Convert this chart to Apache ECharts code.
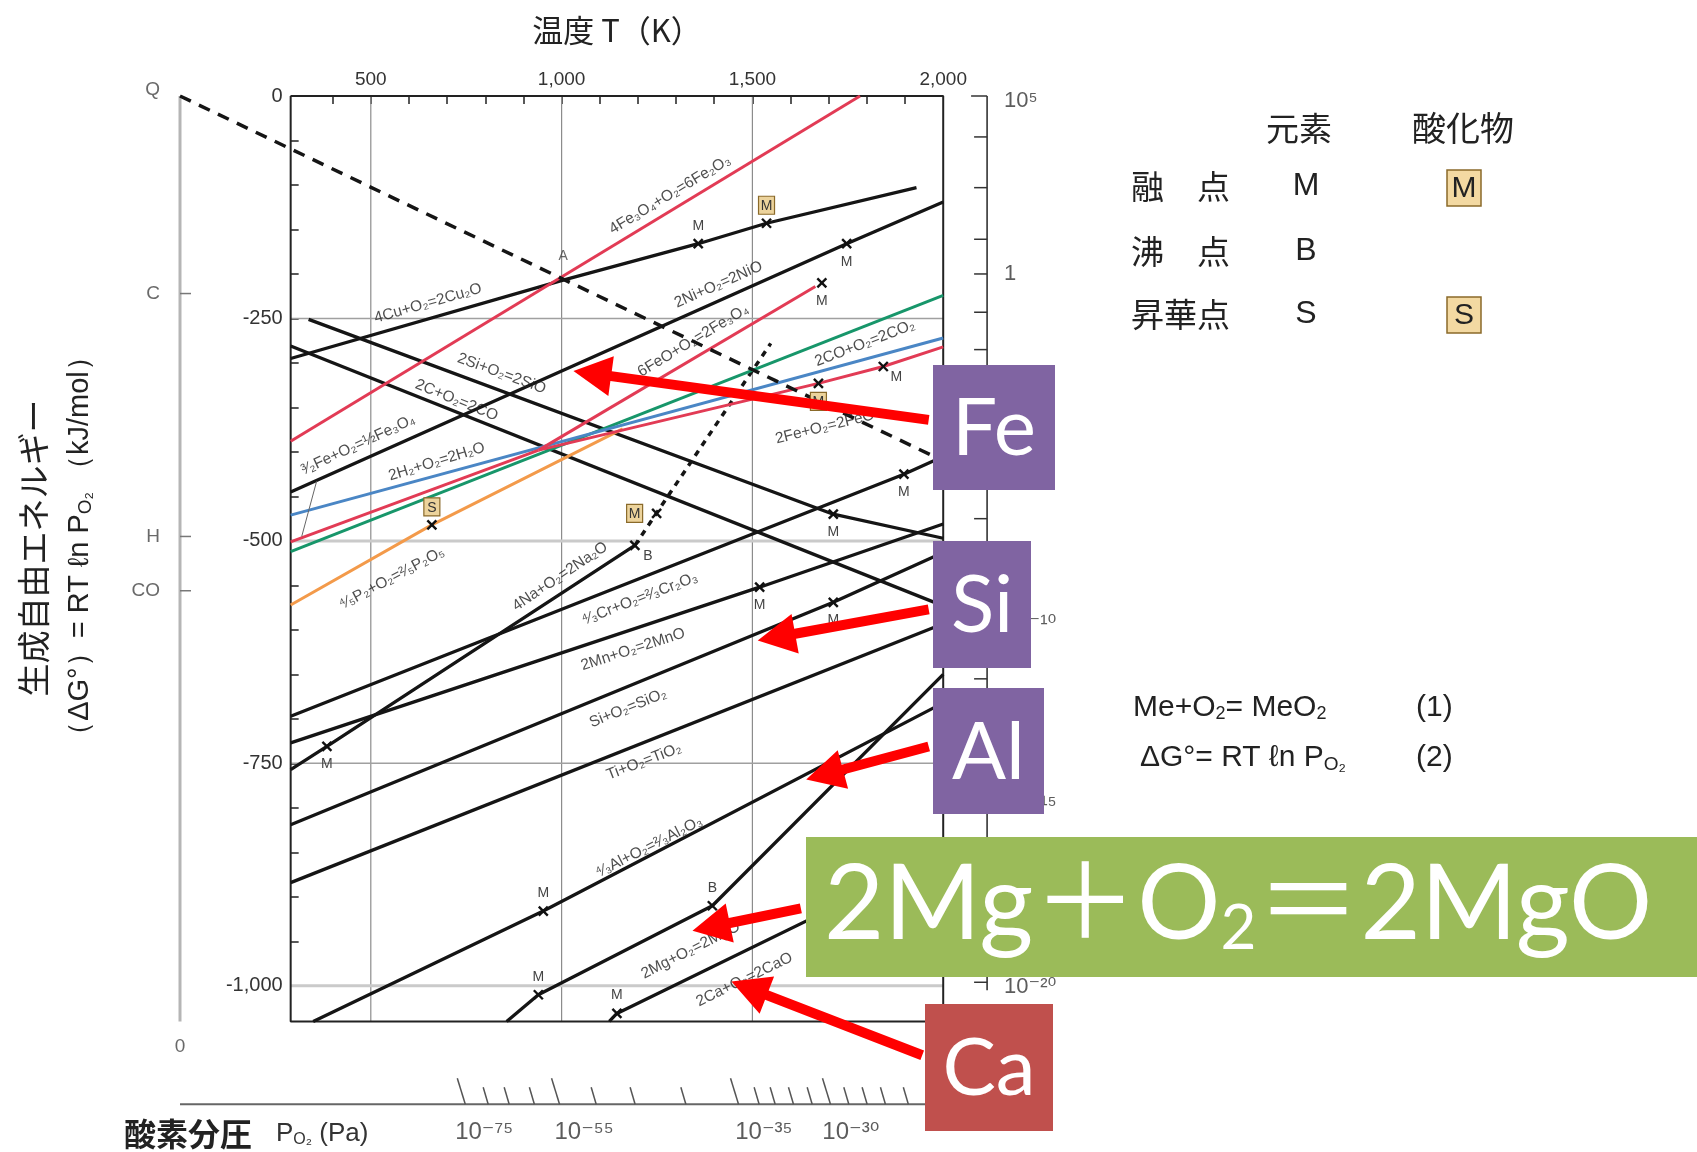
<!DOCTYPE html>
<html>
<head>
<meta charset="utf-8">
<script src="https://cdn.jsdelivr.net/npm/echarts@6/dist/echarts.min.js"></script>
<style>
  html, body { margin: 0; background: #fff; }
  #main { width: 1697px; height: 1152px; }
</style>
</head>
<body>
<div id="main"></div>
<script>
// 図の枠 (K, kJ/mol)
const T_MIN = 290, T_MAX = 2000, G_MIN = -1040, G_MAX = 0;

// 軸の目盛
const topTicks = [400, 500, 600, 700, 800, 900, 1000, 1100, 1200, 1300, 1400, 1500, 1600, 1700, 1800, 1900];
const topLabels = [500, 1000, 1500, 2000];
const leftTicks = [0, -50, -100, -150, -200, -250, -300, -350, -400, -450, -500, -550, -600, -650, -700, -750, -800, -850, -900, -950, -1000];
const leftLabels = [0, -250, -500, -750, -1000];
const vGrid = [500, 1000, 1500];
const hGrid = [-250, -500, -750, -1000];

// 各反応の ΔG° 線 [T, ΔG°]
const lineCu = [[290, -295], [1004, -207], [1358, -166], [1537, -143], [1930, -103]];
const lineFe2O3 = [[290, -388], [1782, 0]];
const lineNi = [[290, -445], [1747, -166], [2000, -119]];
const lineFe3O4 = [[940, -398], [1665, -214]];
const lineFeO = [[940, -398], [1673, -323], [1843, -304], [2000, -282]];
const lineFeFe3O4 = [[290, -501], [940, -398]];
const lineH2O = [[290, -471], [2000, -272]];
const lineCO2 = [[290, -512], [2000, -224]];
const lineP = [[290, -572], [660, -482], [1160, -374]];
const lineSiO = [[337, -251], [1712, -470], [2000, -497]];
const lineCO = [[290, -281], [2000, -573]];
const lineNa = [[290, -757], [385, -731], [1192, -505]];
const lineNaGas = [[1192, -505], [1548, -278]];
const lineCr = [[290, -697], [1897, -425], [2000, -405]];
const lineMn = [[290, -727], [1519, -552], [2000, -481]];
const lineSi = [[290, -819], [1712, -569], [2000, -513]];
const lineTi = [[290, -884], [2000, -593]];
const lineAl = [[349, -1040], [952, -916], [2000, -682]];
const lineMg = [[856, -1040], [939, -1010], [1395, -910], [2000, -650]];
const lineCa = [[1125, -1040], [1145, -1031], [2000, -852]];
const lineQ = [[0, 0], [2000, -410]];
const pointerFe = [[358, -433], [319, -495]];

// 融点・沸点などの記号 [T, ΔG°, 記号, 位置]
const markers = [
  [1358, -166, 'M', 'top'], [1537, -143, '[M]', 'top'], [1747, -166, 'M', 'bottom'],
  [1682, -210, 'M', 'bottom'], [1673, -323, '[M]', 'bottom'], [1843, -304, 'M', 'br'],
  [1712, -470, 'M', 'bottom'], [1897, -425, 'M', 'bottom'], [1519, -552, 'M', 'bottom'],
  [1712, -569, 'M', 'bottom'], [385, -731, 'M', 'bottom'], [1192, -505, 'B', 'br'],
  [1249, -469, '[M]', 'left'], [660, -482, '[S]', 'top'], [952, -916, 'M', 'top'],
  [939, -1010, 'M', 'top'], [1395, -910, 'B', 'top'], [1145, -1031, 'M', 'top']
];

// 反応式ラベル [T, ΔG°, 文字, 角度]
const reactionLabels = [
  [650, -233, '4Cu+O₂=2Cu₂O', 16],
  [1284, -111, '4Fe₃O₄+O₂=6Fe₂O₃', 31],
  [1411, -212, '2Ni+O₂=2NiO', 24],
  [1345, -275, '6FeO+O₂=2Fe₃O₄', 31],
  [1795, -278, '2CO+O₂=2CO₂', 21],
  [843, -312, '2Si+O₂=2SiO', -20],
  [725, -342, '2C+O₂=2CO', -22],
  [1690, -372, '2Fe+O₂=2FeO', 14],
  [467, -392, '³⁄₂Fe+O₂=½Fe₃O₄', 25],
  [673, -411, '2H₂+O₂=2H₂O', 17],
  [555, -542, '⁴⁄₅P₂+O₂=²⁄₅P₂O₅', 28],
  [996, -540, '4Na+O₂=2Na₂O', 34],
  [1205, -565, '⁴⁄₃Cr+O₂=²⁄₃Cr₂O₃', 21],
  [1187, -622, '2Mn+O₂=2MnO', 18],
  [1174, -688, 'Si+O₂=SiO₂', 22],
  [1216, -748, 'Ti+O₂=TiO₂', 21],
  [1229, -844, '⁴⁄₃Al+O₂=²⁄₃Al₂O₃', 27],
  [1338, -960, '2Mg+O₂=2MgO', 27],
  [1479, -993, '2Ca+O₂=2CaO', 26]
];

// 左の基準点
const leftPoints = [[0, 0, 'Q'], [0, -222, 'C'], [0, -495, 'H'], [0, -556, 'CO']];
const leftPointTicks = [-222, -495, -556];

// 酸素分圧の目盛 (下と右)
const NOMO_B_G = -1133;
const nomoBottomMajor = [745, 992, 1461, 1702];
const nomoBottomMinor = [805, 860, 926, 1088, 1190, 1323, 1515, 1557, 1605, 1654, 1750, 1798, 1846, 1906];
const nomoBottomLabels = [[797, '10⁻⁷⁵'], [1059, '10⁻⁵⁵'], [1530, '10⁻³⁵'], [1758, '10⁻³⁰']];
const NOMO_R_T = 2115;
const nomoRightTicks = [0, -46, -103, -161, -200, -243, -285, -475, -655, -798, -996];
const nomoRightLabels = [[-5, '10⁵'], [-200, '1'], [-593, '10⁻¹⁰'], [-797, '10⁻¹⁵'], [-1001, '10⁻²⁰']];

// 矢印 [T始, G始, T先, G先]
const arrows = [
  [1962, -364, 1031, -309],
  [1962, -577, 1514, -612],
  [1962, -731, 1641, -768],
  [1627, -913, 1343, -938],
  [1945, -1078, 1445, -995]
];

const RED = '#e23b55', BLUE = '#4a86c5', GREEN = '#17966a', ORANGE = '#f39a4a', BLACK = '#151515';
const LATIN = '"Liberation Sans", "DejaVu Sans", Arial, sans-serif';
const CJK = '"Noto Sans CJK JP", sans-serif';

const series = [];
function addLine(data, color, width, type, z) {
  series.push({
    type: 'line', data: data, symbol: 'none', silent: true, animation: false,
    lineStyle: { color: color, width: width, type: type || 'solid', cap: 'butt' },
    z: z || 3
  });
}

// グリッド線と枠
vGrid.forEach(t => addLine([[t, G_MAX], [t, G_MIN]], '#8c8c8c', 1.2, 'solid', 1));
hGrid.forEach(g => addLine([[T_MIN, g], [T_MAX, g]], (g === -500 || g === -1000) ? '#cacaca' : '#a0a0a0', (g === -500 || g === -1000) ? 3 : 1.5, 'solid', 1));
addLine([[T_MIN, G_MAX], [T_MAX, G_MAX], [T_MAX, G_MIN], [T_MIN, G_MIN], [T_MIN, G_MAX]], '#222', 2, 'solid', 2);
addLine([[0, G_MAX], [0, G_MIN]], '#b5b5b5', 3, 'solid', 1);

// 反応線
addLine(lineQ, BLACK, 3.5, [12, 9], 4);
addLine(lineCu, BLACK, 3.3);
addLine(lineNi, BLACK, 3.3);
addLine(lineSiO, BLACK, 3.3);
addLine(lineCO, BLACK, 3.3);
addLine(lineNa, BLACK, 3.3);
addLine(lineNaGas, BLACK, 3.5, [6, 6]);
addLine(lineCr, BLACK, 3.3);
addLine(lineMn, BLACK, 3.3);
addLine(lineSi, BLACK, 3.3);
addLine(lineTi, BLACK, 3.3);
addLine(lineAl, BLACK, 3.3);
addLine(lineMg, BLACK, 3.3);
addLine(lineCa, BLACK, 3.3);
addLine(lineP, ORANGE, 3);
addLine(lineCO2, GREEN, 3);
addLine(lineH2O, BLUE, 3);
addLine(lineFe2O3, RED, 3);
addLine(lineFe3O4, RED, 3);
addLine(lineFeO, RED, 3);
addLine(lineFeFe3O4, RED, 3);
addLine(pointerFe, '#666', 1);

// 酸素分圧 下の線
addLine([[0, NOMO_B_G], [1963, NOMO_B_G]], '#666', 2, 'solid', 2);
// 右の線
addLine([[NOMO_R_T, G_MAX], [NOMO_R_T, -1005]], '#333', 1.6, 'solid', 2);

function customSeries(data, draw, z) {
  return {
    type: 'custom', data: data, silent: true, animation: false, clip: false, z: z || 4,
    renderItem: function (params, api) {
      return draw(api.coord([api.value(0), api.value(1)]), params.dataIndex, api);
    }
  };
}

// 左の基準点の目盛
series.push(customSeries(leftPointTicks.map(g => [0, g]), p => ({
  type: 'line', shape: { x1: p[0], y1: p[1], x2: p[0] + 11, y2: p[1] }, style: { stroke: '#777', lineWidth: 1.5 }
})));
// 下の目盛 (斜め)
series.push(customSeries(nomoBottomMajor.map(t => [t, NOMO_B_G]), p => ({
  type: 'line', shape: { x1: p[0] + 1, y1: p[1], x2: p[0] - 7, y2: p[1] - 26 }, style: { stroke: '#555', lineWidth: 1.5 }
})));
series.push(customSeries(nomoBottomMinor.map(t => [t, NOMO_B_G]), p => ({
  type: 'line', shape: { x1: p[0] + 1, y1: p[1], x2: p[0] - 4, y2: p[1] - 17 }, style: { stroke: '#555', lineWidth: 1.5 }
})));
// 右の目盛
series.push(customSeries(nomoRightTicks.map(g => [NOMO_R_T, g]), (p, i) => ({
  type: 'line', shape: { x1: p[0], y1: p[1], x2: p[0] - (i === 0 ? 16 : 13), y2: p[1] }, style: { stroke: '#333', lineWidth: 1.5 }
})));

// 記号 ×, M, B, [M], [S]
series.push(customSeries(markers.map(m => [m[0], m[1]]), (p, i) => {
  const m = markers[i];
  const s = 4.5;
  const children = [
    { type: 'line', shape: { x1: p[0] - s, y1: p[1] - s, x2: p[0] + s, y2: p[1] + s }, style: { stroke: '#111', lineWidth: 2.4 } },
    { type: 'line', shape: { x1: p[0] - s, y1: p[1] + s, x2: p[0] + s, y2: p[1] - s }, style: { stroke: '#111', lineWidth: 2.4 } }
  ];
  const off = { top: [0, -18], bottom: [0, 18], left: [-22, 0], br: [13, 11] }[m[3]];
  const cx = p[0] + off[0], cy = p[1] + off[1];
  if (m[2].charAt(0) === '[') {
    children.push({ type: 'rect', shape: { x: cx - 8, y: cy - 9, width: 16, height: 18 }, style: { fill: '#ecd39c', stroke: '#8a6a2a', lineWidth: 1.2 } });
    children.push({ type: 'text', style: { text: m[2].charAt(1), x: cx, y: cy + 1, align: 'center', verticalAlign: 'middle', textAlign: 'center', textVerticalAlign: 'middle', fontSize: 14, fontFamily: LATIN, fill: '#333' } });
  } else {
    children.push({ type: 'text', style: { text: m[2], x: cx, y: cy, align: 'center', verticalAlign: 'middle', textAlign: 'center', textVerticalAlign: 'middle', fontSize: 14, fontFamily: LATIN, fill: '#444' } });
  }
  return { type: 'group', children: children };
}, 6));

// 文字ラベルのための散布図
function textSeries(items, labelOpt, z) {
  return {
    type: 'scatter', symbolSize: 0, silent: true, animation: false, z: z || 5, clip: false,
    data: items.map(it => ({ value: [it[0], it[1]], label: Object.assign({ formatter: it[2] }, it[3] !== undefined ? { rotate: it[3] } : {}) })),
    label: Object.assign({ show: true, color: '#222', fontFamily: LATIN }, labelOpt)
  };
}
series.push(textSeries(reactionLabels, { position: 'inside', fontSize: 15.5, color: '#222' }));
series.push(textSeries([[1004, -180, 'A']], { position: 'inside', fontSize: 14, color: '#444' }));
series.push(textSeries(leftPoints.slice(0, 1), { position: 'left', distance: 20, fontSize: 19, color: '#444', offset: [0, -6] }));
series.push(textSeries(leftPoints.slice(1), { position: 'left', distance: 20, fontSize: 19, color: '#444' }));
series.push(textSeries([[0, -1068, '0']], { position: 'inside', fontSize: 19, color: '#444' }));
series.push(textSeries(nomoBottomLabels.map(l => [l[0], -1165, l[1]]), { position: 'inside', fontSize: 24, color: '#333' }));
series.push(textSeries(nomoRightLabels.map(l => [NOMO_R_T, l[0], l[1]]), { position: 'right', distance: 17, fontSize: 22, color: '#333' }));

// 矢印
series.push({
  type: 'custom', data: arrows, silent: true, animation: false, clip: false, z: 120,
  renderItem: function (params, api) {
    const p1 = api.coord([api.value(0), api.value(1)]);
    const p2 = api.coord([api.value(2), api.value(3)]);
    const dx = p2[0] - p1[0], dy = p2[1] - p1[1];
    const L = Math.hypot(dx, dy), ux = dx / L, uy = dy / L, nx = -uy, ny = ux;
    const hl = 38, hw = 20, sw = 5;
    const bx = p2[0] - ux * hl, by = p2[1] - uy * hl;
    return {
      type: 'polygon',
      shape: { points: [
        [p1[0] + nx * sw, p1[1] + ny * sw], [bx + nx * sw, by + ny * sw], [bx + nx * hw, by + ny * hw],
        [p2[0], p2[1]], [bx - nx * hw, by - ny * hw], [bx - nx * sw, by - ny * sw], [p1[0] - nx * sw, p1[1] - ny * sw]
      ] },
      style: { fill: '#ff0000' }
    };
  }
});

// 文字と色付きの箱
function txt(x, y, text, size, opt) {
  opt = opt || {};
  return {
    type: 'text', x: x, y: y, rotation: opt.rotation || 0, z: opt.z || 50,
    style: {
      text: text, fontSize: size, fontFamily: opt.family || CJK, fontWeight: opt.weight || 'normal',
      fill: opt.color || '#222', align: opt.align || 'left', textAlign: opt.align || 'left',
      verticalAlign: 'middle', textVerticalAlign: 'middle', rich: opt.rich
    }
  };
}
const subRich = { s: { fontSize: 19, fontFamily: LATIN, fill: '#222', padding: [12, 0, 0, 0] }, n: { fontSize: 29, fontFamily: LATIN, fill: '#222' } };
const graphics = [
  txt(617, 30, '温度 T（K）', 31, { align: 'center' }),
  txt(33, 548, '生成自由エネルギー', 33, { align: 'center', rotation: Math.PI / 2 }),
  txt(80, 546, '{n|（ΔG°）= RT ℓn P}{s|O₂}{n| （kJ/mol）}', 29, { align: 'center', rotation: Math.PI / 2, rich: subRich }),
  txt(124, 1134, '酸素分圧', 32, { weight: 'bold' }),
  txt(276, 1134, '{n|P}{s|O₂}{n| (Pa)}', 26, { family: LATIN, rich: { n: { fontSize: 26, fontFamily: LATIN, fill: '#333' }, s: { fontSize: 16, fontFamily: LATIN, fill: '#333', padding: [12, 0, 0, 0] } } }),
  txt(1299, 128, '元素', 33, { align: 'center' }),
  txt(1463, 128, '酸化物', 34, { align: 'center' }),
  txt(1131, 186, '融　点', 33),
  txt(1131, 251, '沸　点', 33),
  txt(1131, 314, '昇華点', 33),
  txt(1306, 186, 'M', 32, { align: 'center', family: LATIN }),
  txt(1306, 251, 'B', 32, { align: 'center', family: LATIN }),
  txt(1306, 314, 'S', 32, { align: 'center', family: LATIN }),
  { type: 'rect', shape: { x: 1447, y: 170, width: 34, height: 36 }, style: { fill: '#f3d9a2', stroke: '#8a6a2a', lineWidth: 1.5 }, z: 50 },
  txt(1464, 189, 'M', 30, { align: 'center', family: LATIN, z: 51 }),
  { type: 'rect', shape: { x: 1447, y: 297, width: 34, height: 36 }, style: { fill: '#f3d9a2', stroke: '#8a6a2a', lineWidth: 1.5 }, z: 50 },
  txt(1464, 316, 'S', 30, { align: 'center', family: LATIN, z: 51 }),
  txt(1133, 708, '{n|Me+O}{s|2}{n|= MeO}{s|2}', 30, { family: LATIN, rich: { n: { fontSize: 30, fontFamily: LATIN, fill: '#222' }, s: { fontSize: 18, fontFamily: LATIN, fill: '#222', padding: [12, 0, 0, 0] } } }),
  txt(1416, 708, '(1)', 30, { family: LATIN }),
  txt(1140, 758, '{n|ΔG°= RT ℓn P}{s|O₂}', 30, { family: LATIN, rich: { n: { fontSize: 30, fontFamily: LATIN, fill: '#222' }, s: { fontSize: 19, fontFamily: LATIN, fill: '#222', padding: [14, 0, 0, 0] } } }),
  txt(1416, 758, '(2)', 30, { family: LATIN })
];

const boxes = [
  { text: 'Fe', x: 933, y: 365, w: 122, h: 125, color: '#8064a2' },
  { text: 'Si', x: 933, y: 541, w: 98, h: 127, color: '#8064a2' },
  { text: 'Al', x: 933, y: 688, w: 111, h: 126, color: '#8064a2' },
  { text: 'Ca', x: 925, y: 1004, w: 128, h: 127, color: '#c0504d' }
];
boxes.forEach(b => {
  graphics.push({ type: 'rect', shape: { x: b.x, y: b.y, width: b.w, height: b.h }, style: { fill: b.color }, z: 100 });
  graphics.push(txt(b.x + b.w / 2, b.y + b.h / 2 + 2, b.text, 80, { align: 'center', family: 'Lato, "Open Sans", sans-serif', color: '#fff', z: 101 }));
});
graphics.push({ type: 'rect', shape: { x: 806, y: 837, width: 891, height: 140 }, style: { fill: '#9bbb59' }, z: 100 });
graphics.push(txt(824, 905, '{t|2Mg＋O}{s|2}{t|＝2MgO}', 104, {
  color: '#fff', z: 101, family: 'Lato, sans-serif',
  rich: {
    t: { fontSize: 104, fontFamily: 'Lato, "Noto Sans CJK JP", sans-serif', fill: '#fff' },
    s: { fontSize: 62, fontFamily: 'Lato, sans-serif', fill: '#fff', padding: [48, 0, 0, 0] }
  }
}));

const chart = echarts.init(document.getElementById('main'));
chart.setOption({
  animation: false,
  backgroundColor: '#fff',
  grid: { left: 180, top: 96, width: 809, height: 1050 },
  xAxis: {
    type: 'value', min: 0, max: 2120, position: 'top',
    axisLine: { show: false }, splitLine: { show: false },
    axisTick: { show: true, inside: true, length: 8, customValues: topTicks, lineStyle: { color: '#222', width: 1.5 } },
    axisLabel: { customValues: topLabels, margin: 7, fontSize: 19, color: '#333', fontFamily: LATIN,
      formatter: v => v.toLocaleString('en-US') }
  },
  yAxis: {
    type: 'value', min: -1180, max: 0, offset: -(T_MIN * 809 / 2120),
    axisLine: { show: false }, splitLine: { show: false },
    axisTick: { show: true, inside: true, length: 8, customValues: leftTicks, lineStyle: { color: '#222', width: 1.5 } },
    axisLabel: { customValues: leftLabels, margin: 8, fontSize: 20, color: '#333', fontFamily: LATIN,
      formatter: v => v.toLocaleString('en-US') }
  },
  series: series,
  graphic: graphics
});
</script>
</body>
</html>
